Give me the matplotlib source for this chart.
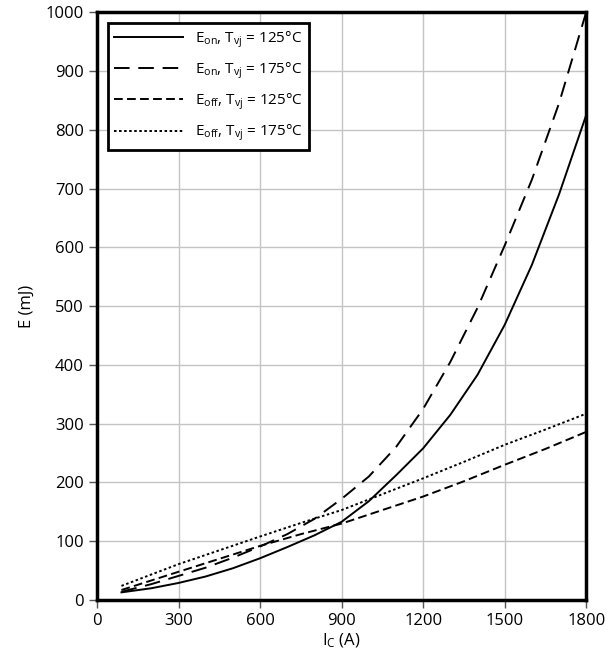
import numpy as np
import matplotlib.pyplot as plt

plt.rcParams['font.family'] = ['Open Sans', 'DejaVu Sans']
plt.rcParams['mathtext.fontset'] = 'custom'
plt.rcParams['mathtext.rm'] = 'Open Sans'
plt.rcParams['mathtext.it'] = 'Open Sans'

# values
ic_on = [90, 200, 300, 400, 500, 600, 700, 800, 900, 1000, 1100, 1200, 1300, 1400, 1500, 1600, 1700, 1800]
eon_125 = [13, 20, 29, 40, 54, 71, 90, 110, 133, 168, 212, 258, 315, 383, 468, 570, 690, 825]
eon_175 = [14, 27, 41, 55, 72, 91, 112, 138, 172, 210, 260, 325, 405, 497, 603, 715, 845, 1000]

ic_off = [90, 300, 600, 750, 900, 1200, 1350, 1500, 1650, 1800]
eoff_125 = [17, 48, 92, 112, 130, 176, 202, 230, 257, 286]
eoff_175 = [24, 61, 108, 131, 153, 207, 235, 264, 290, 317]

fig = plt.figure(figsize=(6.1, 6.68), dpi=100)
ax = fig.add_axes([0.159, 0.1018, 0.802, 0.880])

ax.plot(ic_on, eon_125, color='black', lw=1.4, ls='-', label=r'E$_{\mathrm{on}}$, T$_{\mathrm{vj}}$ = 125°C')
ax.plot(ic_on, eon_175, color='black', lw=1.4, ls=(0, (8, 4.5)), label=r'E$_{\mathrm{on}}$, T$_{\mathrm{vj}}$ = 175°C')
ax.plot(ic_off, eoff_125, color='black', lw=1.4, ls=(0, (4.5, 2.2)), label=r'E$_{\mathrm{off}}$, T$_{\mathrm{vj}}$ = 125°C')
ax.plot(ic_off, eoff_175, color='black', lw=1.4, ls=(0, (1.3, 1.3)), label=r'E$_{\mathrm{off}}$, T$_{\mathrm{vj}}$ = 175°C')

ax.set_xlim(0, 1800)
ax.set_ylim(0, 1000)
ax.set_xticks(np.arange(0, 1801, 300))
ax.set_yticks(np.arange(0, 1001, 100))
ax.grid(True, color='#c4c4c4', lw=1)
ax.set_axisbelow(True)
for s in ax.spines.values():
    s.set_linewidth(2.5)
ax.tick_params(direction='out', length=6, width=1, color='#555555', labelsize=12)
ax.set_xlabel(r'I$_{\mathrm{C}}$ (A)', fontsize=12, labelpad=2)
ax.set_ylabel('E (mJ)', fontsize=12, labelpad=8)

leg = ax.legend(loc='upper left', fontsize=11, handlelength=4.5, fancybox=False,
                edgecolor='black', framealpha=1, borderaxespad=0.7, labelspacing=0.7)
leg.get_frame().set_linewidth(2)

fig.savefig('out.png', dpi=100)
